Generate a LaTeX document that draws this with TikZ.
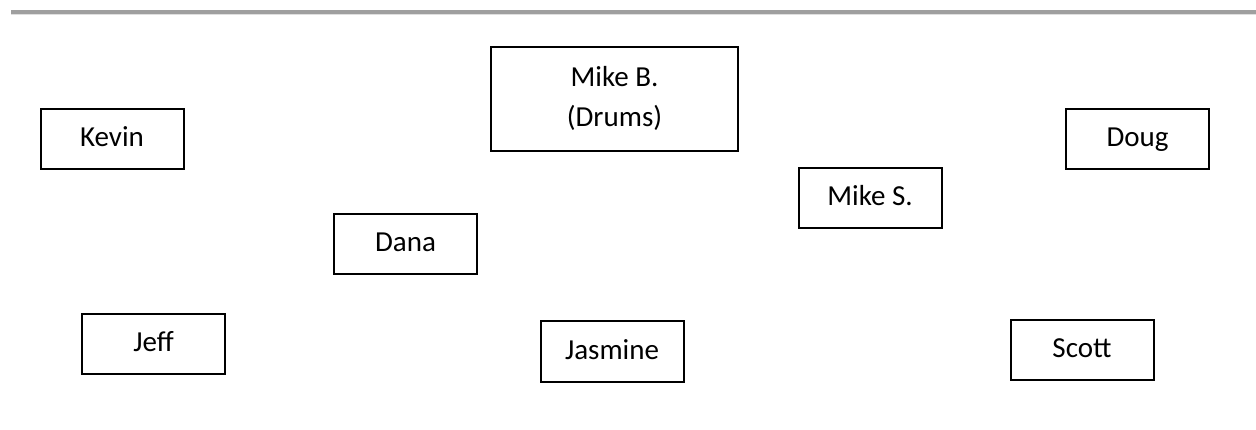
\documentclass[tikz,border=0pt]{standalone}
\usepackage{fontspec}
\setmainfont{Carlito}
\usepackage{tikz}

\begin{document}
\begin{tikzpicture}[x=1pt, y=-1pt,
		player/.style={draw, line width=2pt, minimum width=143pt, minimum height=60pt, inner sep=0pt, text height=22pt, text depth=6pt, align=center, font=\fontsize{29}{40}\selectfont}]
		\useasboundingbox (0,0) rectangle (1256,430);
		% header rule
		\fill[gray!75] (11,10) rectangle (1256,14);
		\fill[gray!25] (11,14) rectangle (1256,15.5);
		% drums
		\node[player, minimum width=247pt, minimum height=104pt, text height=62pt] (mikeb) at (614.5,99) {Mike B.\\(Drums)};
		% front row
		\node[player] (kevin) at (112,139) {Kevin};
		\node[player] (doug) at (1137.5,139) {Doug};
		\node[player] (mikes) at (870,198) {Mike S.};
		\node[player] (dana) at (405.5,244) {Dana};
		% back row
		\node[player] (jeff) at (153.5,344) {Jeff};
		\node[player] (jasmine) at (612,351.5) {Jasmine};
		\node[player] (scott) at (1082,350) {Scott};
	\end{tikzpicture}
\end{document}
